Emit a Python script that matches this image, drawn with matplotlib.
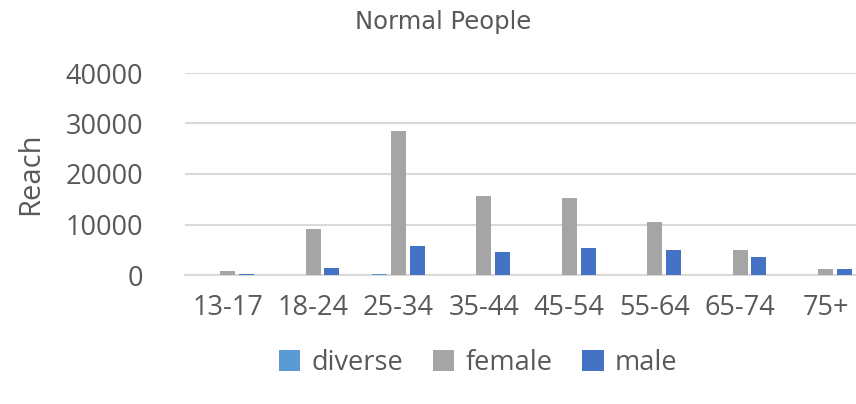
import matplotlib.pyplot as plt
import numpy as np

plt.rcParams['font.family'] = ['Open Sans', 'DejaVu Sans']

grupos = ['13-17', '18-24', '25-34', '35-44', '45-54', '55-64', '65-74', '75+']
diverse = [20, 60, 120, 60, 50, 40, 30, 20]
female = [800, 9100, 28600, 15650, 15300, 10500, 4950, 1250]
male = [100, 1400, 5800, 4500, 5300, 5000, 3550, 1150]

gris = '#595959'

fig = plt.figure(figsize=(8.56, 4.04), dpi=100)
ax = fig.add_axes([185 / 856, 129 / 404, 671 / 856, 202 / 404])

x = np.arange(len(grupos))
ancho = 0.175
paso = 0.22
ax.bar(x - paso, diverse, ancho, color='#5B9BD5', label='diverse', zorder=3)
ax.bar(x, female, ancho, color='#A5A5A5', label='female', zorder=3)
ax.bar(x + paso, male, ancho, color='#4472C4', label='male', zorder=3)

ax.set_xlim(-0.5, -0.5 + 671 / 85.4)
ax.set_ylim(0, 40000)
ax.set_yticks([0, 10000, 20000, 30000, 40000])
ax.set_xticks(x)
ax.set_xticklabels(grupos)
ax.yaxis.grid(True, color='#D9D9D9', linewidth=1.5, zorder=0)
for s in ['top', 'right', 'left']:
    ax.spines[s].set_visible(False)
ax.spines['bottom'].set_color('#D9D9D9')
ax.spines['bottom'].set_linewidth(1.5)
ax.tick_params(axis='both', length=0, labelsize=19.5, labelcolor=gris)
ax.tick_params(axis='y', pad=30)
ax.tick_params(axis='x', pad=14)

ax.set_ylabel('Reach', fontsize=21, color=gris)
ax.yaxis.set_label_coords(-140 / 671, 0.5)

fig.text(443 / 856, 1 - 22 / 404, 'Normal People', ha='center', va='center',
         fontsize=17.5, color=gris, family=['DejaVu Sans'])

fig.legend(loc='center', bbox_to_anchor=(478 / 856, 1 - 363 / 404), ncol=3,
           frameon=False, fontsize=19.5, labelcolor=gris, handlelength=0.8,
           handleheight=0.8, handletextpad=0.4, columnspacing=1.1)

plt.savefig('out.png', dpi=100)
